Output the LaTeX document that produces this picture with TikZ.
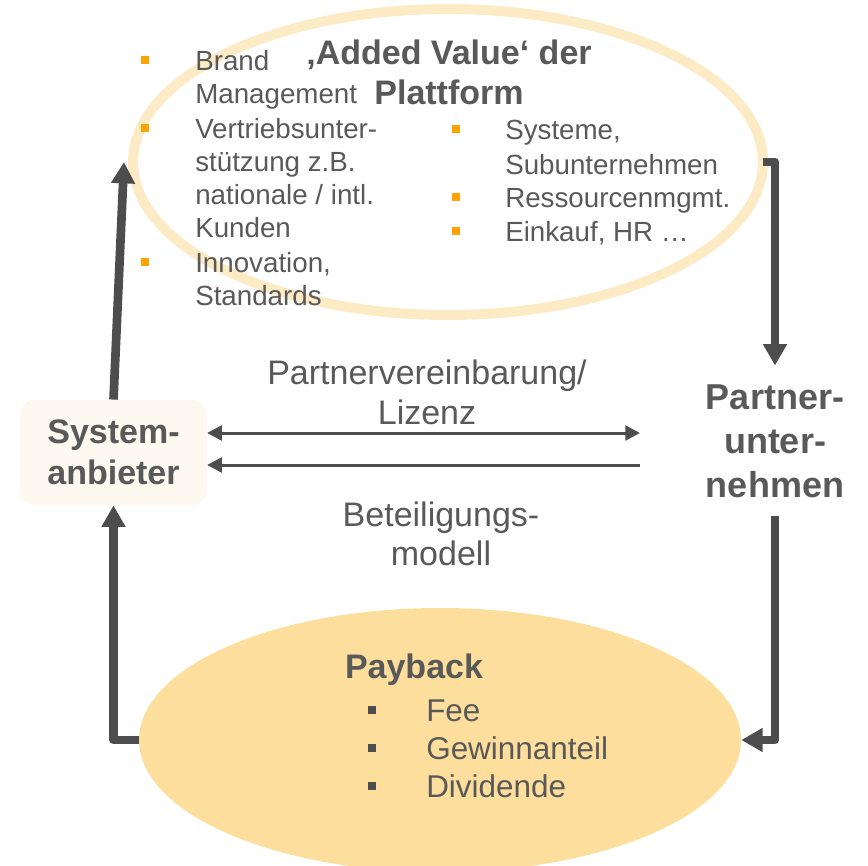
\documentclass[tikz,border=0pt]{standalone}
\usepackage{fontspec}
\setmainfont{Liberation Sans}
\usetikzlibrary{shapes.geometric, positioning, arrows.meta}

\definecolor{textgray}{HTML}{595959}
\definecolor{linegray}{HTML}{4D4D4D}
\definecolor{ringorange}{HTML}{FDEBC6}
\definecolor{payfill}{HTML}{FDDE9C}
\definecolor{bulletorange}{HTML}{FFA300}
\definecolor{boxfill}{HTML}{FEF9F0}

\begin{document}
\begin{tikzpicture}[x=0.75pt, y=-0.75pt, text=textgray,
	item/.style={anchor=base west, align=left, inner sep=0pt, font=\fontsize{20.8}{24.75}\selectfont},
	payitem/.style={anchor=base west, inner sep=0pt, font=\fontsize{23.6}{28}\selectfont},
	bul/.style={fill=bulletorange, inner sep=0pt, minimum size=5.8pt},
	paybul/.style={fill=linegray, inner sep=0pt, minimum size=6pt},
	mid/.style={anchor=base, align=center, font=\fontsize{25.5}{29.25}\selectfont},
	flow/.style={draw=linegray, line width=6.5pt, line join=round, -{Triangle[length=16pt,width=17pt]}},
	deal/.style={draw=linegray, line width=2.25pt},
	dealtip/.tip={Triangle[length=11pt,width=11pt]}
]
	\useasboundingbox (0,0) rectangle (868,866);

	% the two ellipses
	\node[ellipse, draw=ringorange, line width=7.5pt, minimum width=472.5pt, minimum height=229.5pt, inner sep=0pt] (plattform) at (448,162) {};
	\node[ellipse, fill=payfill, minimum width=451.5pt, minimum height=198pt, inner sep=0pt] (payback) at (440,740) {};

	% added value (base = last line)
	\node[anchor=base, align=center, font=\bfseries\fontsize{25.5}{30}\selectfont] (titel) at (449,105) {‚Added Value‘ der\\Plattform};
	\node[item] (brand) at (195,104) {Brand\\Management};
	\node[item] (vertrieb) at (195,238) {Vertriebsunter-\\stützung z.B.\\nationale / intl.\\Kunden};
	\node[item] (innov) at (195,306) {Innovation,\\Standards};
	\node[item, font=\fontsize{20.8}{26.25}\selectfont] (systeme) at (505,175) {Systeme,\\Subunternehmen};
	\node[item] (ressourcen) at (505,208) {Ressourcenmgmt.};
	\node[item] (einkauf) at (505,242) {Einkauf, HR …};
	\node[bul] at ([shift={(-50,-44)}]brand.base west) {};
	\node[bul] at ([shift={(-50,-110)}]vertrieb.base west) {};
	\node[bul] at ([shift={(-50,-44)}]innov.base west) {};
	\node[bul] at ([shift={(-49,-46)}]systeme.base west) {};
	\node[bul] at ([shift={(-49,-11)}]ressourcen.base west) {};
	\node[bul] at ([shift={(-49,-11)}]einkauf.base west) {};

	% partners
	\node[fill=boxfill, rounded corners=11pt, minimum width=140pt, minimum height=79pt, align=center, font=\bfseries\fontsize{25.5}{30.75}\selectfont] (sys) at (113.5,452.5) {System-\\anbieter};
	\node[align=center, inner sep=14pt, font=\bfseries\fontsize{27}{33}\selectfont] (partner) at (775,441) {Partner-\\unter-\\nehmen};
	\node[mid] (vereinbarung) at (427,424) {Partnervereinbarung/\\Lizenz};
	\node[mid] (beteiligung) at (441,565) {Beteiligungs-\\modell};
	\coordinate (lizenzend) at (640,433);
	\coordinate (modellend) at (640,465);

	% payback
	\node[anchor=base, font=\bfseries\fontsize{25.5}{30}\selectfont] (paytitel) at (414,678) {Payback};
	\node[payitem] (fee) at (426,721) {Fee};
	\node[payitem] (gewinn) at (426,759) {Gewinnanteil};
	\node[payitem] (dividende) at (426,797) {Dividende};
	\node[paybul] at ([shift={(-54,-11)}]fee.base west) {};
	\node[paybul] at ([shift={(-54,-11)}]gewinn.base west) {};
	\node[paybul] at ([shift={(-54,-11)}]dividende.base west) {};

	% cycle
	\draw[flow] (sys.north) -- ([xshift=-3pt]plattform.west);
	\draw[flow] ([xshift=-3.75pt]plattform.east) -| (partner.north);
	\draw[flow] (partner.south) |- (payback.east);
	\draw[flow] (payback.west) -| (sys.south);
	\draw[deal, dealtip-dealtip] (sys.east |- lizenzend) -- (lizenzend);
	\draw[deal, -dealtip] (modellend) -- (sys.east |- modellend);
\end{tikzpicture}
\end{document}
